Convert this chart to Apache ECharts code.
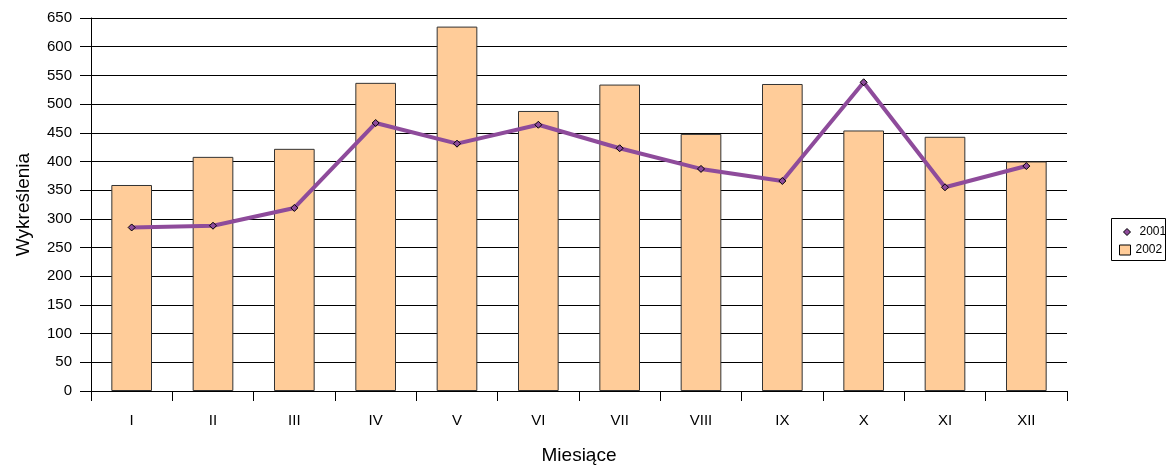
<!DOCTYPE html>
<html>
<head>
<meta charset="utf-8">
<script src="https://cdn.jsdelivr.net/npm/echarts@6/dist/echarts.min.js"></script>
<style>html,body{margin:0;padding:0;background:#fff;overflow:hidden}#c{width:1168px;height:465px}</style>
</head>
<body>
<div id="c"></div>
<script>
const categories = ['I','II','III','IV','V','VI','VII','VIII','IX','X','XI','XII'];
const values2001 = [285, 288, 319, 467, 431, 464, 423, 387, 366, 538, 355, 392];
const values2002 = [359, 408, 422, 537, 635, 488, 534, 448, 535, 454, 443, 400];
const yTicks = { min: 0, max: 650, interval: 50 };

const chart = echarts.init(document.getElementById('c'), null, {renderer: 'canvas'});
const font = 'Liberation Sans, Arial, sans-serif';
chart.setOption({
  animation: false,
  backgroundColor: '#fff',
  grid: { left: 91, right: 101, top: 18, bottom: 74, containLabel: false, outerBoundsMode: 'none' },
  xAxis: {
    type: 'category',
    data: categories,
    boundaryGap: true,
    name: 'Miesiące',
    nameLocation: 'middle',
    nameGap: 55,
    nameTextStyle: { fontFamily: font, fontSize: 19, color: '#000' },
    axisLine: { lineStyle: { color: '#000', width: 1 } },
    axisTick: { show: true, length: 10, lineStyle: { color: '#000' } },
    axisLabel: { fontFamily: font, fontSize: 15, color: '#000', margin: 22 },
    splitLine: { show: false }
  },
  yAxis: {
    type: 'value',
    min: yTicks.min, max: yTicks.max, interval: yTicks.interval,
    name: 'Wykreślenia',
    nameLocation: 'middle',
    nameGap: 58,
    nameTextStyle: { fontFamily: font, fontSize: 19, color: '#000' },
    axisLine: { show: true, lineStyle: { color: '#000', width: 1 } },
    axisTick: { show: true, length: 11, lineStyle: { color: '#000' } },
    axisLabel: { fontFamily: font, fontSize: 15, color: '#000', margin: 19 },
    splitLine: { show: true, lineStyle: { color: '#000', width: 1 } }
  },
  legend: [
    {
      data: [{ name: '2001', icon: 'diamond' }],
      orient: 'vertical',
      left: 1118, top: 221,
      itemWidth: 7, itemHeight: 7,
      itemGap: 4,
      textStyle: { fontFamily: font, fontSize: 12, color: '#000', padding: [0,0,0,4] },
      itemStyle: { borderColor: '#000', borderWidth: 1 }
    },
    {
      data: [{ name: '2002', icon: 'rect' }],
      orient: 'vertical',
      left: 1114, top: 239,
      itemWidth: 11, itemHeight: 10,
      textStyle: { fontFamily: font, fontSize: 12, color: '#000', padding: [0,0,0,0] },
      itemStyle: { borderColor: '#000', borderWidth: 1 }
    }
  ],
  graphic: [{
    type: 'rect',
    shape: { x: 1111.5, y: 218.5, width: 54, height: 42 },
    style: { fill: 'none', stroke: '#000', lineWidth: 1 },
    silent: true
  }],
  series: [
    {
      name: '2002',
      type: 'bar',
      data: values2002,
      barWidth: '50%',
      itemStyle: { color: '#FFCC99', borderColor: '#333', borderWidth: 1 },
      z: 2
    },
    {
      name: '2001',
      type: 'line',
      data: values2001,
      symbol: 'diamond',
      symbolSize: 7,
      lineStyle: { color: '#8E4B9B', width: 4 },
      itemStyle: { color: '#8E4B9B', borderColor: '#000', borderWidth: 1 },
      z: 3
    }
  ]
});
</script>
</body>
</html>
